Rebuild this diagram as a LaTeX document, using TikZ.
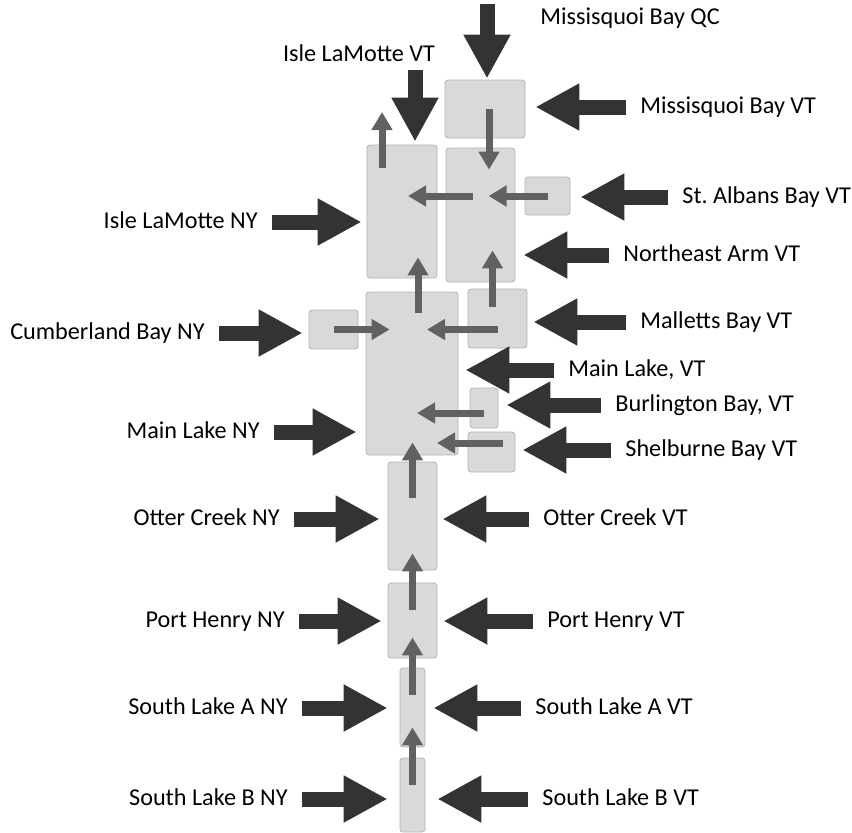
\documentclass[tikz,border=0pt]{standalone}
\usepackage{fontspec}
\setmainfont{Carlito}
\usetikzlibrary{arrows.meta,fit}
\frenchspacing

\tikzset{
  lakebox/.style={draw=black!30,fill=black!15,line width=0.4pt,rounded corners=1.5pt,inner sep=0pt},
  lbl/.style={font=\fontsize{12.1}{14}\selectfont,inner sep=0pt,text height=0.64em,text depth=0pt},
  inflow/.style={draw=black!80,line width=7.5pt,-{Triangle[width=22pt,length=22pt]},shorten <=7pt,shorten >=4pt},
  flow/.style={draw=black!62,line width=3.5pt,-{Triangle[width=10pt,length=9pt]}}
}

\begin{document}
\begin{tikzpicture}[x=0.5pt,y=-0.5pt]
\useasboundingbox (0,0) rectangle (852,832);
\node[lakebox,fit={(445,80) (525,138)}] (mbay) {};
\node[lakebox,fit={(367,145) (437,278)}] (isle) {};
\node[lakebox,fit={(446,148) (515,282)}] (neArm) {};
\node[lakebox,fit={(525,177) (570,215)}] (stAlb) {};
\node[lakebox,fit={(309,310) (358,349)}] (cumb) {};
\node[lakebox,fit={(366,292) (458,455)}] (main) {};
\node[lakebox,fit={(468,289) (527,348)}] (mal) {};
\node[lakebox,fit={(470,388) (498,428)}] (burl) {};
\node[lakebox,fit={(468,432) (515,472)}] (shel) {};
\node[lakebox,fit={(388,462) (437,570)}] (otter) {};
\node[lakebox,fit={(388,583) (437,658)}] (ph) {};
\node[lakebox,fit={(400,668) (425,747)}] (slA) {};
\node[lakebox,fit={(400,758) (425,832)}] (slB) {};

\node[lbl,anchor=west] (qc) at (540,18) {Missisquoi Bay QC};
\node[lbl] (vtIL) at (359,55) {Isle LaMotte VT};
\node[lbl,anchor=west] (vtMB) at (640,107) {Missisquoi Bay VT};
\node[lbl,anchor=west] (vtSA) at (682,197) {St. Albans Bay VT};
\node[lbl,anchor=west] (vtNE) at (623,255) {Northeast Arm VT};
\node[lbl,anchor=west] (vtMal) at (640,322) {Malletts Bay VT};
\node[lbl,anchor=west] (vtML) at (568,370) {Main Lake, VT};
\node[lbl,anchor=west] (vtBur) at (615,405) {Burlington Bay, VT};
\node[lbl,anchor=west] (vtShe) at (625,450) {Shelburne Bay VT};
\node[lbl,anchor=west] (vtOC) at (543,519) {Otter Creek VT};
\node[lbl,anchor=west] (vtPH) at (547,621) {Port Henry VT};
\node[lbl,anchor=west] (vtSLA) at (535,708) {South Lake A VT};
\node[lbl,anchor=west] (vtSLB) at (542,799) {South Lake B VT};
\node[lbl,anchor=east] (nyIL) at (258,222) {Isle LaMotte NY};
\node[lbl,anchor=east] (nyCB) at (205,333) {Cumberland Bay NY};
\node[lbl,anchor=east] (nyML) at (260,432) {Main Lake NY};
\node[lbl,anchor=east] (nyOC) at (280,519) {Otter Creek NY};
\node[lbl,anchor=east] (nyPH) at (285,621) {Port Henry NY};
\node[lbl,anchor=east] (nySLA) at (288,708) {South Lake A NY};
\node[lbl,anchor=east] (nySLB) at (288,799) {South Lake B NY};

\coordinate (qcIn) at (487,4);
\coordinate (ilIn) at (415,70);
\coordinate (outlet) at (382,112);

\draw[inflow,shorten <=0pt,shorten >=0.5pt] (qcIn) -- (qcIn |- mbay.north);
\draw[inflow,shorten <=0pt,shorten >=1.5pt] (ilIn) -- (ilIn |- isle.north);
\draw[inflow,shorten >=5pt] (vtMB.west) -- (vtMB.west -| mbay.east);
\draw[inflow,shorten >=5pt] (vtSA.west) -- (vtSA.west -| stAlb.east);
\draw[inflow] (vtNE.west) -- (vtNE.west -| neArm.east);
\draw[inflow,shorten >=3pt] (vtMal.west) -- (vtMal.west -| mal.east);
\draw[inflow,shorten >=3.5pt] (vtML.west) -- (vtML.west -| main.east);
\draw[inflow] (vtBur.west) -- (vtBur.west -| burl.east);
\draw[inflow,shorten >=3.5pt] (vtShe.west) -- (vtShe.west -| shel.east);
\draw[inflow,shorten >=2.5pt] (vtOC.west) -- (vtOC.west -| otter.east);
\draw[inflow,shorten >=3pt] (vtPH.west) -- (vtPH.west -| ph.east);
\draw[inflow] (vtSLA.west) -- (vtSLA.west -| slA.east);
\draw[inflow,shorten >=6pt] (vtSLB.west) -- (vtSLB.west -| slB.east);
\draw[inflow,shorten >=2.5pt] (nyIL.east) -- (nyIL.east -| isle.west);
\draw[inflow,shorten >=3pt] (nyCB.east) -- (nyCB.east -| cumb.west);
\draw[inflow,shorten >=4.5pt] (nyML.east) -- (nyML.east -| main.west);
\draw[inflow] (nyOC.east) -- (nyOC.east -| otter.west);
\draw[inflow,shorten >=3pt] (nyPH.east) -- (nyPH.east -| ph.west);
\draw[inflow,shorten >=6pt] (nySLA.east) -- (nySLA.east -| slA.west);
\draw[inflow,shorten >=6pt] (nySLB.east) -- (nySLB.east -| slB.west);

\draw[flow,shorten >=-11pt] ([xshift=2pt]mbay.center) -- ([xshift=2pt]mbay.center |- neArm.north);
\draw[flow,shorten <=-11.5pt] (outlet |- isle.north) -- (outlet);
\draw[flow,shorten >=4pt] (stAlb.center) -- (stAlb.center -| neArm.center);
\draw[flow,shorten <=4pt,shorten >=3pt] (stAlb.center -| neArm.center) -- (stAlb.center -| isle.center);
\draw[flow,shorten <=-10.5pt,shorten >=-10.5pt] ([xshift=3pt]main.north) -- ([xshift=3pt]main.north |- isle.south);
\draw[flow,shorten <=-9pt,shorten >=-16pt] ([xshift=-2.5pt]mal.north) -- ([xshift=-2.5pt]mal.north |- neArm.south);
\draw[flow,shorten >=-12pt] (cumb.center) -- (cumb.center -| main.west);
\draw[flow,shorten >=7.5pt] (mal.center |- cumb.center) -- (cumb.center -| main.center);
\draw[flow,shorten >=2.5pt] ([yshift=-2.5pt]burl.center) -- ([yshift=-2.5pt]burl.center -| main.center);
\draw[flow,shorten <=-5.5pt,shorten >=12.5pt] ([yshift=4.5pt]shel.center) -- ([yshift=4.5pt]shel.center -| main.center);
\draw[flow,shorten <=-18pt,shorten >=-6.5pt] (otter.north) -- (otter.north |- main.south);
\draw[flow,shorten <=-13.5pt,shorten >=-8.5pt] (ph.north) -- (ph.north |- otter.south);
\draw[flow,shorten <=-13.5pt,shorten >=-10.5pt] (slA.north) -- (slA.north |- ph.south);
\draw[flow,shorten <=-13.5pt,shorten >=-10pt] (slB.north) -- (slB.north |- slA.south);
\end{tikzpicture}
\end{document}
